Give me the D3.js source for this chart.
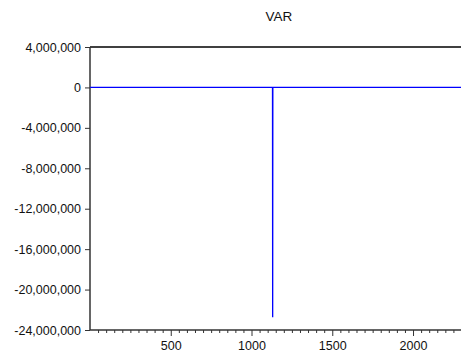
<!DOCTYPE html>
<html>
<head>
<meta charset="utf-8">
<script src="https://cdn.jsdelivr.net/npm/d3@7"></script>
<style>
  body { margin: 0; background: #fff; }
  svg { display: block; font-family: "Liberation Sans", Arial, sans-serif; }
</style>
</head>
<body>
<svg id="chart" width="461" height="357"></svg>
<script>
// observations where the series changes (flat at zero except one spike)
const obsIndex = [1, 1130, 1131, 1132, 2297];
const varValues = [0, 0, -22750000, 0, 0];

const yTicks = [4000000, 0, -4000000, -8000000, -12000000, -16000000, -20000000, -24000000];
const xTicks = [500, 1000, 1500, 2000];

let svg = d3.select("#chart");
let width = 461, height = 357;

let margin = { top: 47, right: 0, bottom: 27, left: 90 };
let plotWidth = width - margin.left - margin.right;
let plotHeight = height - margin.top - margin.bottom;

let x = d3.scaleLinear().domain([0, 2297]).range([0, plotWidth]);
let y = d3.scaleLinear().domain([-24000000, 4000000]).range([plotHeight, 0]);

let plot = svg.append("g")
  .attr("transform", "translate(" + margin.left + "," + margin.top + ")");

// title
svg.append("text")
  .text("VAR")
  .attr("x", 279)
  .attr("y", 21)
  .attr("text-anchor", "middle")
  .style("font-size", "13.5px")
  .style("fill", "#111");

// top border
plot.append("line")
  .attr("x1", 0).attr("x2", plotWidth)
  .attr("y1", 0).attr("y2", 0)
  .attr("stroke", "#000")
  .attr("stroke-width", 1.6);

// y axis, hyphen minus like the original
let commaFmt = d3.format(",");
let yAxis = d3.axisLeft(y)
  .tickValues(yTicks)
  .tickFormat(d => commaFmt(d).replace("\u2212", "-"))
  .tickSize(5)
  .tickPadding(4);
let yGroup = plot.append("g").call(yAxis);

// minor x ticks
let minorTicks = d3.range(50, 2297, 50).filter(d => d % 500 !== 0);
let xMinor = d3.axisBottom(x).tickValues(minorTicks).tickSize(3).tickFormat("");
let xMinorGroup = plot.append("g")
  .attr("transform", "translate(0," + plotHeight + ")")
  .call(xMinor);
xMinorGroup.select(".domain").remove();

// x axis
let xAxis = d3.axisBottom(x)
  .tickValues(xTicks)
  .tickFormat(d3.format("d"))
  .tickSize(6)
  .tickPadding(5);
let xGroup = plot.append("g")
  .attr("transform", "translate(0," + plotHeight + ")")
  .call(xAxis);

[yGroup, xGroup].forEach(g => {
  g.select(".domain").attr("stroke", "#333").attr("stroke-width", 1.5);
  g.selectAll(".tick text").style("font-size", "12.5px").style("font-family", "Liberation Sans, Arial, sans-serif").attr("fill", "#111");
  g.selectAll(".tick line").attr("stroke", "#333");
});
xGroup.select(".domain").attr("d", "M0,0H" + plotWidth);
yGroup.select(".domain").attr("d", "M0,0V" + plotHeight);
xMinorGroup.selectAll(".tick line").attr("stroke", "#333");

// series line
let line = d3.line()
  .x((d, i) => x(obsIndex[i]))
  .y(d => y(d));

plot.append("path")
  .datum(varValues)
  .attr("d", line)
  .attr("fill", "none")
  .attr("stroke", "#0000ff")
  .attr("stroke-width", 1.3);
</script>
</body>
</html>
